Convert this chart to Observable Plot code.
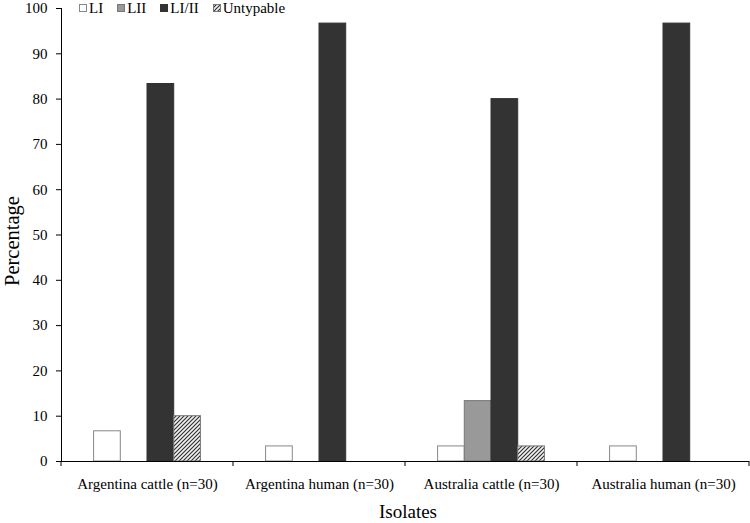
<!DOCTYPE html>
<html><head><meta charset="utf-8">
<script src="https://cdn.jsdelivr.net/npm/d3@7"></script>
<script src="https://cdn.jsdelivr.net/npm/@observablehq/plot@0.6"></script>
<style>
body{margin:0;background:#fff;}
#wrap{position:relative;width:750px;height:523px;font-family:"Liberation Serif","Times New Roman",serif;color:#000;}
#legend{position:absolute;left:79px;top:0px;font-size:15px;display:flex;gap:0;white-space:nowrap;line-height:16px;}
#legend .it{display:flex;align-items:center;margin-right:14px;}
#legend svg{margin-right:2px;}
.ttl{position:absolute;white-space:nowrap;}
</style></head><body>
<svg width="0" height="0" style="position:absolute">
  <defs>
    <pattern id="hatch" patternUnits="userSpaceOnUse" width="4" height="4">
      <rect width="4" height="4" fill="#f2f2f2"></rect>
      <path d="M-1,1 l2,-2 M0,4 l4,-4 M3,5 l2,-2" stroke="#333" stroke-width="1.2"></path>
    </pattern>
  </defs>
</svg>
<div id="wrap"></div>
<script>
const categories = ["Argentina cattle (n=30)", "Argentina human (n=30)", "Australia cattle (n=30)", "Australia human (n=30)"];
const series = ["LI", "LII", "LI/II", "Untypable"];
const valuesLI = [6.67, 3.33, 3.33, 3.33];
const valuesLII = [0, 0, 13.33, 0];
const valuesLIII = [83.33, 96.67, 80, 96.67];
const valuesUntypable = [10, 0, 3.33, 0];
const yTicks = [0, 10, 20, 30, 40, 50, 60, 70, 80, 90, 100];

const fills = ["#ffffff", "#999999", "#333333", "url(#hatch)"];
const strokes = ["#888888", "#777777", "#333333", "#777777"];

const seriesValues = [valuesLI, valuesLII, valuesLIII, valuesUntypable];
const data = [];
categories.forEach((c, i) => {
  series.forEach((s, j) => {
    data.push({category: c, series: s, value: seriesValues[j][i]});
  });
});
const shown = data.filter(d => d.value > 0);

const chart = Plot.plot({
  width: 750,
  height: 523,
  marginLeft: 61,
  marginRight: 1,
  marginTop: 8,
  marginBottom: 62,
  style: {fontFamily: "Liberation Serif", fontSize: "15px", background: "#fff", color: "#000"},
  fx: {domain: categories, padding: 0, label: null, tickSize: 0, tickPadding: 17, axis: "bottom"},
  x: {domain: series, paddingInner: 0, paddingOuter: 1.22, round: false, axis: null},
  y: {domain: [0, 100], ticks: yTicks, tickSize: 5, tickPadding: 9, label: null, line: true},
  color: {domain: series, range: fills},
  marks: [
    Plot.barY(shown, {fx: "category", x: "series", y: "value", fill: "series",
      stroke: d => strokes[series.indexOf(d.series)], strokeWidth: 1, inset: 0}),
    Plot.ruleY([0], {stroke: "#000"})
  ]
});

d3.select(chart).selectAll("text").style("font-family", '"Liberation Serif", serif');

// boundary ticks on the category axis, using the fx scale
const fx = chart.scale("fx");
const yS = chart.scale("y");
const y0 = yS.apply(0);
const edges = categories.map(c => fx.apply(c)).concat([fx.apply(categories[categories.length - 1]) + fx.bandwidth]);
const g = d3.select(chart).append("g").attr("stroke", "#000");
edges.forEach(x => {
  g.append("line").attr("x1", x).attr("x2", x).attr("y1", y0).attr("y2", y0 + 5);
});

const wrap = document.getElementById("wrap");
wrap.appendChild(chart);

// legend
const legend = document.createElement("div");
legend.id = "legend";
series.forEach((s, j) => {
  const it = document.createElement("div");
  it.className = "it";
  it.innerHTML = `<svg width="8" height="8"><rect x="0.5" y="0.5" width="7" height="7" fill="${fills[j]}" stroke="${strokes[j]}"></rect></svg><span>${s}</span>`;
  legend.appendChild(it);
});
wrap.appendChild(legend);

// axis titles
const yt = document.createElement("div");
yt.className = "ttl";
yt.textContent = "Percentage";
yt.style.fontSize = "20.5px";
yt.style.left = "12px";
yt.style.top = "241px";
yt.style.transform = "translate(-50%,-50%) rotate(-90deg)";
wrap.appendChild(yt);

const xt = document.createElement("div");
xt.className = "ttl";
xt.textContent = "Isolates";
xt.style.fontSize = "19px";
xt.style.left = "408px";
xt.style.top = "512px";
xt.style.transform = "translate(-50%,-50%)";
wrap.appendChild(xt);
</script>
</body></html>
